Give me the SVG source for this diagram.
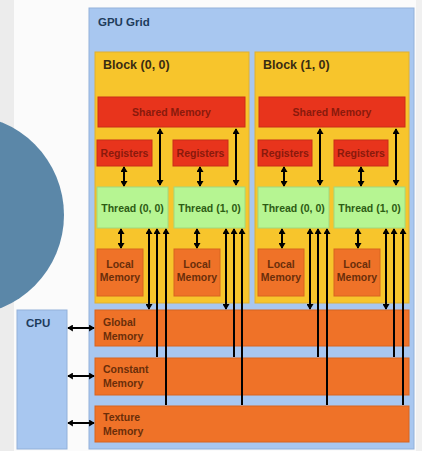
<svg xmlns="http://www.w3.org/2000/svg" width="422" height="451" viewBox="0 0 422 451">
<defs>
<marker id="ah" viewBox="0 0 8 10" refX="7" refY="5" markerWidth="6" markerHeight="7" markerUnits="userSpaceOnUse" orient="auto-start-reverse">
<path d="M0,0 L8,5 L0,10 z" fill="#000"/>
</marker>
</defs>
<style>
text{font-family:"Liberation Sans",Arial,sans-serif;font-weight:bold}
.blue{fill:#a8c7f0;stroke:#93b1da;stroke-width:1}
.block{fill:#f7c52c;stroke:#e0b030;stroke-width:1}
.red{fill:#e8341c;stroke:#c92c18;stroke-width:1}
.green{fill:#b6f592;stroke:#a0d880;stroke-width:1}
.orange{fill:#ef7228;stroke:#d8641e;stroke-width:1}
.t-blue{fill:#1e3c5c;font-size:11.5px}
.t-block{fill:#3a2c12;font-size:12.5px}
.t-red{fill:#8a1a0c;font-size:10.5px}
.t-green{fill:#2d5c14;font-size:10.5px}
.t-or{fill:#6a2e0a;font-size:10.5px}
.c{stroke:#000;stroke-width:2;fill:none}
.b{marker-start:url(#ah);marker-end:url(#ah)}
.s{marker-start:url(#ah)}
</style>
<rect x="0" y="0" width="422" height="451" fill="#fbfbfb"/>
<rect x="0" y="0" width="14" height="451" fill="#ececec"/>
<rect x="416" y="0" width="6" height="451" fill="#f0f0f0"/>
<circle cx="-36" cy="215" r="100" fill="#5b87a8"/>

<g id="gpu-grid">
<rect class="blue" x="89" y="8" width="325" height="441"/>
<text class="t-blue" x="98" y="26">GPU Grid</text>
</g>

<g id="block-0-0">
<rect class="block" x="95" y="52" width="154" height="251"/>
<text class="t-block" x="103" y="69">Block (0, 0)</text>
</g>
<g id="block-1-0">
<rect class="block" x="255" y="52" width="154" height="251"/>
<text class="t-block" x="263" y="69">Block (1, 0)</text>
</g>

<g id="shared-0">
<rect class="red" x="98" y="97" width="147" height="30"/>
<text class="t-red" x="171.5" y="116" text-anchor="middle">Shared Memory</text>
</g>
<g id="shared-1">
<rect class="red" x="259" y="97" width="146" height="30"/>
<text class="t-red" x="332" y="116" text-anchor="middle">Shared Memory</text>
</g>

<g id="reg-0-0"><rect class="red" x="97" y="140" width="55" height="26"/><text class="t-red" x="124.5" y="157" text-anchor="middle">Registers</text></g>
<g id="reg-0-1"><rect class="red" x="173" y="140" width="55" height="26"/><text class="t-red" x="200.5" y="157" text-anchor="middle">Registers</text></g>
<g id="reg-1-0"><rect class="red" x="258" y="140" width="54" height="26"/><text class="t-red" x="285" y="157" text-anchor="middle">Registers</text></g>
<g id="reg-1-1"><rect class="red" x="334" y="140" width="54" height="26"/><text class="t-red" x="361" y="157" text-anchor="middle">Registers</text></g>

<g id="thread-0-0"><rect class="green" x="97" y="187" width="71" height="41"/><text class="t-green" x="132.5" y="211.5" text-anchor="middle">Thread (0, 0)</text></g>
<g id="thread-0-1"><rect class="green" x="174" y="187" width="71" height="41"/><text class="t-green" x="209.5" y="211.5" text-anchor="middle">Thread (1, 0)</text></g>
<g id="thread-1-0"><rect class="green" x="258" y="187" width="71" height="41"/><text class="t-green" x="293.5" y="211.5" text-anchor="middle">Thread (0, 0)</text></g>
<g id="thread-1-1"><rect class="green" x="334" y="187" width="71" height="41"/><text class="t-green" x="369.5" y="211.5" text-anchor="middle">Thread (1, 0)</text></g>

<g id="local-0-0"><rect class="orange" x="97" y="249" width="46" height="47"/><text class="t-or" x="120" y="268" text-anchor="middle">Local</text><text class="t-or" x="120" y="281" text-anchor="middle">Memory</text></g>
<g id="local-0-1"><rect class="orange" x="174" y="249" width="46" height="47"/><text class="t-or" x="197" y="268" text-anchor="middle">Local</text><text class="t-or" x="197" y="281" text-anchor="middle">Memory</text></g>
<g id="local-1-0"><rect class="orange" x="258" y="249" width="46" height="47"/><text class="t-or" x="281" y="268" text-anchor="middle">Local</text><text class="t-or" x="281" y="281" text-anchor="middle">Memory</text></g>
<g id="local-1-1"><rect class="orange" x="334" y="249" width="46" height="47"/><text class="t-or" x="357" y="268" text-anchor="middle">Local</text><text class="t-or" x="357" y="281" text-anchor="middle">Memory</text></g>

<g id="global-memory"><rect class="orange" x="95" y="310" width="314" height="36"/><text class="t-or" x="103" y="326">Global</text><text class="t-or" x="103" y="340">Memory</text></g>
<g id="constant-memory"><rect class="orange" x="95" y="358" width="314" height="37"/><text class="t-or" x="103" y="373">Constant</text><text class="t-or" x="103" y="387">Memory</text></g>
<g id="texture-memory"><rect class="orange" x="95" y="406" width="314" height="36"/><text class="t-or" x="103" y="421">Texture</text><text class="t-or" x="103" y="435">Memory</text></g>

<g id="cpu"><rect class="blue" x="17" y="310" width="50" height="139"/><text class="t-blue" x="26" y="327">CPU</text></g>

<g id="connectors">
<line class="c b" x1="160" y1="129" x2="160" y2="185"/>
<line class="c b" x1="236" y1="129" x2="236" y2="185"/>
<line class="c b" x1="320" y1="129" x2="320" y2="185"/>
<line class="c b" x1="396" y1="129" x2="396" y2="185"/>

<line class="c b" x1="124" y1="167" x2="124" y2="186"/>
<line class="c b" x1="200" y1="167" x2="200" y2="186"/>
<line class="c b" x1="284" y1="167" x2="284" y2="186"/>
<line class="c b" x1="361" y1="167" x2="361" y2="186"/>

<line class="c b" x1="121" y1="229" x2="121" y2="248"/>
<line class="c b" x1="197" y1="229" x2="197" y2="248"/>
<line class="c b" x1="282" y1="229" x2="282" y2="248"/>
<line class="c b" x1="358" y1="229" x2="358" y2="248"/>

<line class="c b" x1="149" y1="229" x2="149" y2="309"/>
<line class="c s" x1="157" y1="229" x2="157" y2="357"/>
<line class="c s" x1="166" y1="229" x2="166" y2="405"/>
<line class="c b" x1="226" y1="229" x2="226" y2="309"/>
<line class="c s" x1="234" y1="229" x2="234" y2="357"/>
<line class="c s" x1="242" y1="229" x2="242" y2="405"/>
<line class="c b" x1="310" y1="229" x2="310" y2="309"/>
<line class="c s" x1="318" y1="229" x2="318" y2="357"/>
<line class="c s" x1="327" y1="229" x2="327" y2="405"/>
<line class="c b" x1="386" y1="229" x2="386" y2="309"/>
<line class="c s" x1="394" y1="229" x2="394" y2="357"/>
<line class="c s" x1="403" y1="229" x2="403" y2="405"/>

<line class="c b" x1="68" y1="328" x2="94" y2="328"/>
<line class="c b" x1="68" y1="376" x2="94" y2="376"/>
<line class="c b" x1="68" y1="423" x2="94" y2="423"/>
</g>
</svg>
